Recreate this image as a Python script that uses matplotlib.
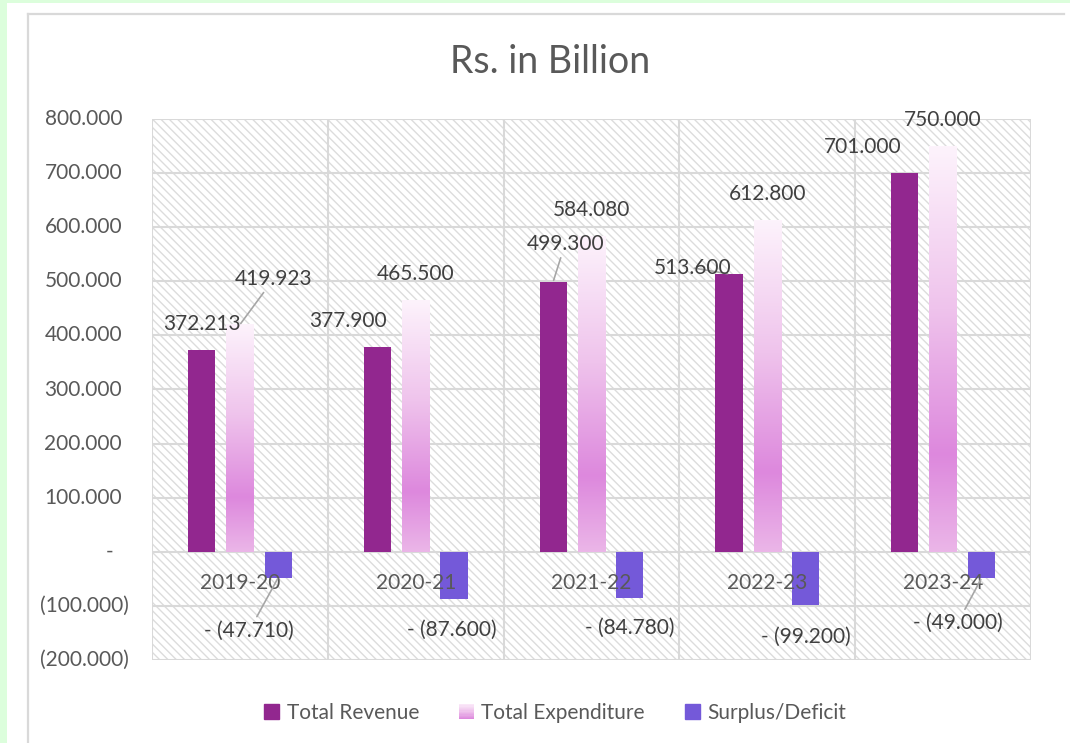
import matplotlib
matplotlib.use('Agg')
import matplotlib.pyplot as plt
import numpy as np
from matplotlib.colors import LinearSegmentedColormap
from matplotlib.patches import Rectangle
from matplotlib.lines import Line2D
from matplotlib.legend_handler import HandlerBase

plt.rcParams['font.family'] = ['Lato', 'DejaVu Sans']

# data
years = ['2019-20', '2020-21', '2021-22', '2022-23', '2023-24']
revenue = [372.213, 377.900, 499.300, 513.600, 701.000]
expenditure = [419.923, 465.500, 584.080, 612.800, 750.000]
surplus = [-47.710, -87.600, -84.780, -99.200, -49.000]
series_names = ['Total Revenue', 'Total Expenditure', 'Surplus/Deficit']
yticks = [-200, -100, 0, 100, 200, 300, 400, 500, 600, 700, 800]

# label nudges (pixels) and which ones get a leader line
rev_shift = [(0, 0), (-29, 0), (12, 12), (-36, -20), (-42, 0)]
rev_lead = [False, False, True, True, False]
exp_shift = [(34, 20), (0, 0), (0, 0), (0, 0), (0, 0)]
exp_lead = [True, False, False, False, False]
sur_shift = [(-29, -23), (-2, -1), (0, 0), (0, -1), (-24, -15)]
sur_lead = [True, False, False, False, True]

c_rev = '#92278f'
c_sur = '#7459d9'
txt = '#595959'
lbl = '#404040'
grid_c = '#d9d9d9'
grad = LinearSegmentedColormap.from_list(
    'exp', [(0, '#fdf3fc'), (0.4, '#efc3ec'), (0.76, '#dd88dd'), (1, '#ebb6e8')])


def acct(v):
    if abs(v) < 1e-9:
        return '-'
    if v < 0:
        return '(%.3f)' % -v
    return '%.3f' % v


def lab(v):
    if v < 0:
        return '- (%.3f)' % -v
    return '%.3f' % v


fig = plt.figure(figsize=(10.7, 7.43), dpi=100)
fig.patch.set_facecolor('white')
W, H = 1070, 743

# outer decorations
fig.add_artist(Rectangle((0, 0), 7 / W, 1, transform=fig.transFigure, color='#dcfedc', lw=0))
fig.add_artist(Rectangle((0, 1 - 3 / H), 1, 3 / H, transform=fig.transFigure, color='#dcfedc', lw=0))
fig.add_artist(Line2D([27.5 / W, 27.5 / W], [0, 1 - 13.5 / H], transform=fig.transFigure, color=grid_c, lw=1.6))
fig.add_artist(Line2D([27.5 / W, 1064 / W], [1 - 13.5 / H, 1 - 13.5 / H], transform=fig.transFigure, color=grid_c, lw=1.6))

ax = fig.add_axes([152 / W, 1 - 660 / H, (1031 - 152) / W, (660 - 119) / H])
ax.patch.set_facecolor('white')
plt.rcParams['hatch.color'] = '#dcdcdc'
plt.rcParams['hatch.linewidth'] = 0.9
ax.patch.set_hatch('\\\\\\\\')
ax.patch.set_edgecolor('#dcdcdc')
ax.patch.set_linewidth(0)

x = np.arange(len(years))
off = 0.218
w = 0.155

ax.bar(x - off, revenue, w, color=c_rev, zorder=2)
exp_bars = ax.bar(x, expenditure, w, color='none', zorder=2)
for b, v in zip(exp_bars, expenditure):
    x0 = b.get_x()
    ax.imshow(np.linspace(0, 1, 256).reshape(-1, 1), cmap=grad, extent=(x0, x0 + w, 0, v),
              origin='upper', aspect='auto', zorder=2, interpolation='bilinear')
ax.bar(x + off, surplus, w, color=c_sur, zorder=2)

ax.set_xlim(-0.5, len(years) - 0.5)
ax.set_ylim(-200, 800)
ax.set_yticks(yticks)
ax.set_yticklabels([])
ax.set_xticks([])
ax.set_xticks(np.arange(-0.5, len(years), 1), minor=True)
ax.tick_params(axis='both', which='both', length=0)
ax.grid(axis='y', color=grid_c, lw=1.5, zorder=1)
ax.grid(axis='x', which='minor', color=grid_c, lw=1.5, zorder=1)
ax.set_axisbelow(True)
for s in ax.spines.values():
    s.set_visible(False)

# y tick labels, accounting style
for t in yticks:
    if t == 0:
        dx = -39
    elif t < 0:
        dx = -23
    else:
        dx = -30
    ax.annotate(acct(t), xy=(0, t), xycoords=('axes fraction', 'data'), xytext=(dx, 0),
                textcoords='offset pixels', ha='right', va='center', fontsize=15, color=txt)

# category labels next to zero line
for i, yr in enumerate(years):
    ax.annotate(yr, xy=(i, 0), xytext=(0, -31), textcoords='offset pixels',
                ha='center', va='center', fontsize=15, color=txt)


def put(xp, v, shift, lead, base):
    dx, dy = shift
    ap = dict(arrowstyle='-', color='#a6a6a6', lw=1.2, shrinkA=1, shrinkB=1) if lead else None
    ax.annotate(lab(v), xy=(xp, v), xytext=(dx, base + dy), textcoords='offset pixels',
                ha='center', va='center', fontsize=15, color=lbl, arrowprops=ap, zorder=5)


for i in range(len(years)):
    put(x[i] - off, revenue[i], rev_shift[i], rev_lead[i], 26)
    put(x[i], expenditure[i], exp_shift[i], exp_lead[i], 26)
    put(x[i] + off, surplus[i], sur_shift[i], sur_lead[i], -30)

fig.text(550 / W, 1 - 62 / H, 'Rs. in Billion', ha='center', va='center', fontsize=27, color=txt)


class GradHandler(HandlerBase):
    def create_artists(self, legend, orig_handle, xdescent, ydescent, width, height, fontsize, trans):
        n = 12
        arts = []
        for k in range(n):
            y0 = -ydescent + height * (n - 1 - k) / n
            arts.append(Rectangle((-xdescent, y0), width, height / n, facecolor=grad(0.1 + 0.65 * k / (n - 1)),
                                  lw=0, transform=trans))
        return arts


h_rev = Rectangle((0, 0), 1, 1, color=c_rev)
h_exp = Rectangle((0, 0), 1, 1, color='#eeb0ea')
h_sur = Rectangle((0, 0), 1, 1, color=c_sur)
leg = fig.legend([h_rev, h_exp, h_sur], series_names, loc='center', bbox_to_anchor=(555 / W, 1 - 713 / H),
                 ncol=3, frameon=False, handlelength=0.75, handleheight=0.75, handletextpad=0.35,
                 columnspacing=1.9, fontsize=15, labelcolor=txt,
                 handler_map={h_exp: GradHandler()})

fig.savefig('out.png', dpi=100)
